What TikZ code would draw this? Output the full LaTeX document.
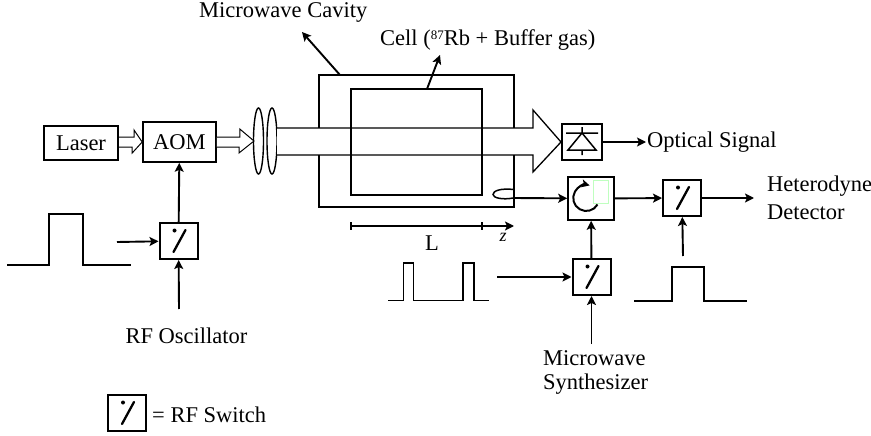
\documentclass[tikz,border=0pt]{standalone}
\usepackage{fontspec}
\setmainfont{Liberation Serif}
\usetikzlibrary{arrows.meta,calc}
\tikzset{
  lbl/.style={inner sep=0pt,font=\fontsize{22.5}{26}\selectfont},
  boxnode/.style={draw,line width=2pt,inner sep=0pt,font=\fontsize{22.5}{26}\selectfont},
  switchbox/.style={boxnode,minimum width=38pt,minimum height=36pt,
    path picture={
      \begin{scope}[shift={(path picture bounding box.center)}]
        \draw[line width=2.3pt,line cap=round] (7,-11)--(-5,11);
        \fill (-4,-10.5) circle (2);
      \end{scope}}},
  conn/.style={line width=1.9pt,-{Stealth[length=9pt,width=9pt,inset=2pt]}},
  thin line/.style={line width=1.1pt},
  hollow/.style={line width=1pt,fill=white},
}
\begin{document}
\begin{tikzpicture}[x=1pt,y=-1pt]
\useasboundingbox (0,0) rectangle (871,436);
% cavity, beam, cell
\node[draw,line width=1.5pt,minimum width=195pt,minimum height=132pt,inner sep=0pt] (cavity) at (416.5,141) {};
\coordinate (cavTop) at (340,75);
\coordinate (mwTip) at (302,32);
% lenses
\draw[line width=1.4pt] (258.5,141) ellipse (5 and 33);
\draw[line width=1.4pt] (272,141) ellipse (5 and 33);
\coordinate (lensR) at (277,141);
\node[boxnode,minimum width=40pt,minimum height=36pt] (det) at (582,142) {};
\fill[white] (277,128) rectangle (533,155);
\draw[line width=1.3pt] (277,128) -- (533,128) -- (533,110) -- (det.west) -- (533,172) -- (533,155) -- (277,155);
\node[draw,line width=1.7pt,minimum width=131pt,minimum height=106pt,inner sep=0pt] (cell) at (416.5,142) {};
\coordinate (cellTop) at (427,89);
\coordinate (cellTip) at (440,55);
\draw[conn] (cavTop) -- (mwTip);
\draw[conn] (cellTop) -- (cellTip);
% diode
\draw[line width=1.5pt] (566,133) -- (598,133) (582,127) -- (582,133) -- (568,150) -- (596,150) -- (582,133) (582,150) -- (582,155);
% left blocks
\node[boxnode,minimum width=74pt,minimum height=34pt] (laser) at (81,143) {Laser};
\node[boxnode,line width=1.6pt,minimum width=73pt,minimum height=40pt] (aom) at (179.5,142) {AOM};
\node[switchbox] (sw1) at (178.5,241) {};
\node[boxnode,line width=1.6pt,minimum width=46pt,minimum height=43pt] (circ) at (591,198.5) {};
\node[switchbox] (sw2) at (591.5,277) {};
\node[switchbox] (sw3) at (682,198) {};
\node[switchbox] (legend) at (127,413) {};
% hollow arrows
\draw[hollow] ($(laser.east)+(0,-6)$) -- ++(15,0) -- ++(0,-7) -- (aom.west) -- ++(-10,11) -- ++(0,-6) -- ($(laser.east)+(0,4)$);
\draw[hollow] ($(aom.east)+(0,-5)$) -- ++(23,0) -- ++(0,-8) -- (254,141) -- ++(-15,12) -- ++(0,-6) -- ($(aom.east)+(0,5)$);
% connectors
\coordinate (pulse1End) at (117,242);
\coordinate (rfEnd) at (179,309);
\coordinate (pulse2End) at (497,277);
\coordinate (synthEnd) at (591.5,344);
\coordinate (pulse3End) at (683,256);
\coordinate (hetEnd) at (754,198);
\coordinate (loopEnd) at (513,198);
\draw[conn] (sw1) -- (aom);
\draw[conn] (pulse1End) -- (sw1);
\draw[conn] (rfEnd) -- (sw1);
\draw[conn,line width=1.5pt] (det) -- (646,142);
\draw[conn] (loopEnd) -- (circ);
\draw[conn] (circ) -- (sw3);
\draw[conn] (sw3) -- (hetEnd);
\draw[conn] (sw2) -- (circ);
\draw[conn] (pulse2End) -- (sw2);
\draw[conn] (synthEnd) -- (sw2);
\draw[conn] (pulse3End) -- (sw3);
% loop
\draw[line width=1.5pt] (514,189.5) .. controls (500,188) and (493,191) .. (493,194.5) .. controls (493,198) and (503,200) .. (loopEnd);
% circulator symbol
\draw[draw=green!25!white,line width=0.4pt] (593,180) rectangle (608,203);
\draw[line width=2pt,-{Stealth[length=8pt,width=8pt,inset=2pt]}] (597.5,204.5) arc (30:285:13);
% pulses
\draw[thin line] (7,265) -- (49,265) -- (49,214) -- (83,214) -- (83,265) -- (131,265);
\draw[thin line] (388,300.5) -- (403.5,300.5) -- (403.5,263) -- (413.5,263) -- (413.5,300.5) -- (463,300.5) -- (463,263) -- (474,263) -- (474,300.5) -- (489,300.5);
\draw[thin line] (634,301) -- (672,301) -- (672,267) -- (704,267) -- (704,301) -- (747,301);
% axis
\coordinate (axL) at (351,226);
\coordinate (axM) at (482,226);
\coordinate (axR) at (514,226);
\draw[conn] (axL) -- (axR);
\draw[line width=1.2pt] ($(axL)+(0,-4)$) -- ($(axL)+(0,4)$) ($(axM)+(0,-4)$) -- ($(axM)+(0,4)$);
% labels
\node[lbl,anchor=west] (tMw) at (199,12) {Microwave Cavity};
\node[lbl,anchor=west] (tCell) at (380,40) {Cell ({\fontsize{13}{13}\selectfont\raisebox{6pt}{87}}Rb + Buffer gas)};
\node[lbl,anchor=west] (tOpt) at (647,142) {Optical Signal};
\node[lbl,anchor=west] (tHet1) at (767,186) {Heterodyne};
\node[lbl,anchor=west] (tHet2) at (767,212) {Detector};
\node[lbl] (tL) at (432,243) {L};
\node[lbl,font=\fontsize{18}{20}\selectfont\itshape] (tz) at (503,237) {z};
\node[lbl] (tRf) at (186.5,336) {RF Oscillator};
\node[lbl,anchor=west] (tSyn1) at (543,358) {Microwave};
\node[lbl,anchor=west] (tSyn2) at (543,384) {Synthesizer};
\node[lbl,anchor=west] (tSw) at (152,415) {= RF Switch};
\end{tikzpicture}
\end{document}
